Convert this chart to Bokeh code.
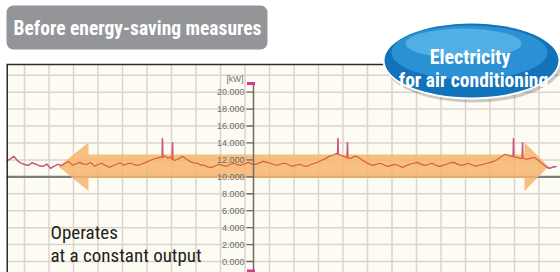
from bokeh.plotting import figure
from bokeh.models import Range1d
from bokeh.core.properties import value
from bokeh.embed import file_html
from bokeh.resources import INLINE

# ---------------- data ----------------
hours = [0, 0.5, 1, 1.5, 2, 2.5, 3, 3.5, 4, 4.5, 5, 5.5, 6, 6.5, 7, 7.5, 8, 8.5, 9, 9.5,
         10, 10.5, 11, 11.5, 12, 12.5, 13, 13.5, 14, 14.5, 15, 15.5, 16, 16.5, 17, 17.5,
         18, 18.5, 19, 19.5, 20, 20.5, 21, 21.2, 21.27, 21.34, 21.6, 22, 22.3,
         22.57, 22.64, 22.71, 23, 23.5, 24, 24.5, 25, 25.5, 26, 26.5, 27, 27.5, 28, 28.5,
         29, 29.5, 30, 30.5, 31, 31.5, 32, 32.5, 33, 33.5, 34, 34.5, 35, 35.5, 36, 36.5,
         37, 37.5, 38, 38.5, 39, 39.5, 40, 40.5, 41, 41.5, 42, 42.5, 43, 43.5, 44, 44.5,
         45, 45.13, 45.2, 45.27, 45.6, 46, 46.43, 46.5, 46.57, 47, 47.5, 48, 48.5,
         49, 49.5, 50, 50.5, 51, 51.5, 52, 52.5, 53, 53.5, 54, 54.5, 55, 55.5, 56, 56.5,
         57, 57.5, 58, 58.5, 59, 59.5, 60, 60.5, 61, 61.5, 62, 62.5, 63, 63.5, 64, 64.5,
         65, 65.5, 66, 66.5, 67, 67.5, 68, 68.5, 69, 69.07, 69.14, 69.21, 69.6,
         70, 70.3, 70.37, 70.44, 71, 71.5, 72, 72.5, 73, 73.5, 74, 74.5, 75]
load_kw = [11830, 12100, 12420, 11900, 11600, 11450, 11360, 11650, 11480, 11300,
           11240, 11500, 11000, 11250, 11480, 11300, 11600, 11800, 11360, 11550,
           11710, 11500, 11480, 11700, 11240, 11450, 11600, 11350, 11120, 11300,
           11480, 11650, 11360, 11550, 11600, 11400, 11360, 11550, 11710, 11900,
           12070, 12200, 12300, 12280, 14550, 12260, 12500, 12190, 12350,
           12050, 14080, 12020, 11950, 12150, 12420, 12100, 11830, 11650, 11600, 11400,
           11360, 11150, 11120, 11300, 11480, 11350, 11240, 11450, 11600, 11400,
           11360, 11550, 11710, 11500, 11480, 11650, 11830, 11700, 11600, 11450,
           11360, 11550, 11600, 11400, 11240, 11400, 11480, 11300, 11240, 11450,
           11600, 11750, 11950, 12150, 12420, 12550,
           12780, 12720, 14550, 12660, 12550, 12420, 12230, 14080, 12210, 12190, 12450,
           12300, 12000, 11710, 11500, 11360, 11500, 11600, 11400, 11240, 11350,
           11480, 11300, 11120, 11300, 11480, 11600, 11710, 11500, 11360, 11450,
           11600, 11400, 11240, 11350, 11480, 11650, 11710, 11500, 11360, 11450,
           11600, 11400, 11240, 11400, 11480, 11600, 11710, 11850, 12070, 12400,
           12660, 12500, 12420, 12380, 14550, 12350, 12300,
           12190, 12190, 14080, 12190, 12070, 12200, 12300, 11950, 11600, 11250,
           11000, 11150, 11240]
tick_kw = [0, 2000, 4000, 6000, 8000, 10000, 12000, 14000, 16000, 18000, 20000]
tick_labels = ["0.000", "2.000", "4.000", "6.000", "8.000", "10.000", "12.000",
               "14.000", "16.000", "18.000", "20.000"]
grid_kw = [0, 2000, 4000, 6000, 8000, 10000, 12000, 14000, 16000, 18000, 20000, 22000]
baseline_kw = 10000
unit_label = "[kW]"
title_text = "Before energy-saving measures"
badge_lines = ["Electricity", "for air conditioning"]
note_lines = ["Operates", "at a constant output"]

# ---------------- layout ----------------
W, H = 560, 272
PX_PER_H = 7.333          # horizontal scale of the time axis
KW_PER_PX = 118.1         # vertical scale of the kW axis
ZERO_PY = 261             # picture y of 0 kW
X0 = 6                    # picture x of hour 0
x_rng = Range1d((0 - X0) / PX_PER_H, (W - X0) / PX_PER_H)
y_rng = Range1d(-(H - ZERO_PY) * KW_PER_PX, ZERO_PY * KW_PER_PX)

p = figure(width=W, height=H, x_range=x_rng, y_range=y_rng,
           output_backend="svg", toolbar_location=None, min_border=0,
           x_axis_location=None, y_axis_location=None,
           outline_line_color=None, background_fill_color="white",
           border_fill_color="white")
p.grid.visible = False
p.extra_x_ranges = {"px": Range1d(0, W)}
p.extra_y_ranges = {"px": Range1d(H, 0)}
PX = dict(x_range_name="px", y_range_name="px")

NARROW = value("Liberation Sans Narrow, Roboto Condensed, Arial Narrow, Roboto")

# chart background
p.quad(left=[6], right=[W], top=[64], bottom=[H], fill_color="#fdfcf3",
       line_color=None, **PX)

# grid
vx = [24 + 24.5 * k for k in range(23)]
p.segment(x0=vx, y0=[64] * len(vx), x1=vx, y1=[H] * len(vx),
          line_color="#dcd3d0", line_width=1.5, **PX)
p.segment(x0=[6] * len(grid_kw), x1=[W] * len(grid_kw), y0=grid_kw, y1=grid_kw,
          line_color="#dcd3d0", line_width=1.5, x_range_name="px")
p.segment(x0=[6], x1=[W], y0=[baseline_kw], y1=[baseline_kw],
          line_color="#7f7c7c", line_width=2.2, x_range_name="px")

# orange double arrow
ax = [58, 88, 88, 524, 524, 548, 524, 524, 88, 88]
ay = [166, 142, 154, 154, 142, 166, 190.5, 177.5, 177.5, 190.5]
p.patch(ax, ay, fill_color="#f6b46c", fill_alpha=0.85, line_color=None, **PX)

# load line: reddish inside the arrow, magenta outside
p.line(hours, load_kw, line_color="#d85f3c", line_width=1.2)
left_tip_h, right_tip_h = (58 - X0) / PX_PER_H, (548 - X0) / PX_PER_H
li = [i for i, h in enumerate(hours) if h <= left_tip_h + 0.5]
ri = [i for i, h in enumerate(hours) if h >= right_tip_h - 0.5]
p.line([hours[i] for i in li], [load_kw[i] for i in li], line_color="#c4559c", line_width=1.2)
p.line([hours[i] for i in ri], [load_kw[i] for i in ri], line_color="#c4559c", line_width=1.2)
band_top_kw = (ZERO_PY - 154) * KW_PER_PX
si = [i for i, v in enumerate(load_kw) if v > band_top_kw]
p.segment(x0=[hours[i] for i in si], x1=[hours[i] for i in si],
          y0=[band_top_kw] * len(si), y1=[load_kw[i] for i in si],
          line_color="#c4559c", line_width=1.4)

# central kW axis
p.segment(x0=[253], x1=[253], y0=[83], y1=[H], line_color="#6e6b6b",
          line_width=1.5, **PX)
p.segment(x0=[246] * len(tick_kw), x1=[253] * len(tick_kw), y0=tick_kw, y1=tick_kw,
          line_color="#6e6b6b", line_width=1.3, x_range_name="px")
p.text(x=[244] * len(tick_kw), y=tick_kw, text=tick_labels, x_range_name="px",
       text_align="right", text_baseline="middle", text_font_size="9px",
       text_color="#6f6f6f", text_font=value("Liberation Sans"))
p.text(x=[243], y=[78], text=[unit_label], text_align="right", text_baseline="middle",
       text_font_size="8.5px", text_color="#6f6f6f", text_font=value("Liberation Sans"), **PX)
p.rect(x=[250.5, 250.5], y=[83, 270.5], width=8, height=3, width_units="screen",
       height_units="screen", fill_color="#d63a8c", line_color=None, **PX)

# frame
p.segment(x0=[6, 6.75], y0=[64, 64], x1=[W, 6.75], y1=[64, H],
          line_color="#2b2b2b", line_width=1.5, **PX)

# title box
p.quad(left=[6], right=[267], top=[5], bottom=[49], fill_color="#939598",
       line_color=None, border_radius=7, **PX)
p.text(x=[137], y=[27.5], text=[title_text], text_align="center",
       text_baseline="middle", text_font_size="19.5px", text_font_style="bold",
       text_color="white", text_font=NARROW, **PX)

# blue badge
p.ellipse(x=[473], y=[63], width=[178], height=[78], width_units="screen",
          height_units="screen", fill_color="black", fill_alpha=0.2, line_color=None, **PX)
p.ellipse(x=[471], y=[60], width=[178], height=[78], width_units="screen",
          height_units="screen", fill_color="white", line_color=None, **PX)
p.ellipse(x=[471], y=[60], width=[174], height=[74], width_units="screen",
          height_units="screen", fill_color="#1272ba", line_color=None, **PX)
p.ellipse(x=[469], y=[52], width=[156], height=[54], width_units="screen",
          height_units="screen", fill_color="#2f97d8", fill_alpha=0.85, line_color=None, **PX)
p.ellipse(x=[463], y=[43], width=[116], height=[30], width_units="screen",
          height_units="screen", fill_color="#6cc3ef", fill_alpha=0.6, line_color=None, **PX)
p.text(x=[469.5], y=[56], text=[badge_lines[0]], text_align="center",
       text_baseline="alphabetic", text_font_size="20px", text_font_style="bold",
       text_color="white", text_font=NARROW, **PX)
p.text(x=[473], y=[80], text=[badge_lines[1]], text_align="center",
       text_baseline="alphabetic", text_font_size="19.5px", text_font_style="bold",
       text_color="white", text_font=NARROW, **PX)

# note
p.text(x=[50, 50], y=[232, 255], text=note_lines, text_align="left",
       text_baseline="alphabetic", text_font_size="19px", text_color="#231f20",
       text_font=NARROW, **PX)

open("out.html", "w").write(file_html(p, INLINE))
